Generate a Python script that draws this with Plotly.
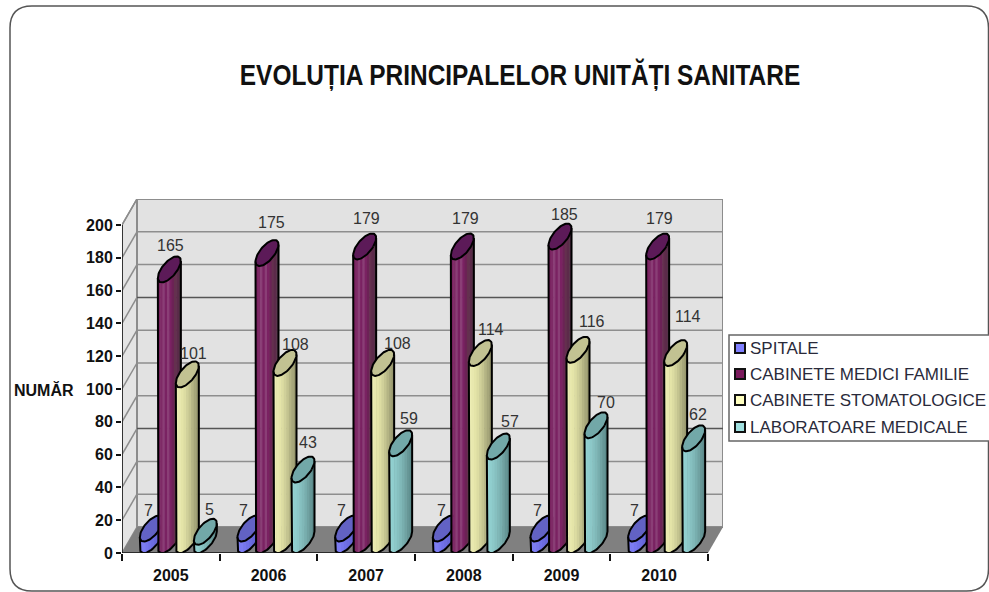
import math
import plotly.graph_objects as go

# ---- data ----
years = ["2005", "2006", "2007", "2008", "2009", "2010"]
spitale = [7, 7, 7, 7, 7, 7]
medici_familie = [165, 175, 179, 179, 185, 179]
stomatologice = [101, 108, 108, 114, 116, 114]
laboratoare = [5, 43, 59, 57, 70, 62]
series_names = ["SPITALE", "CABINETE MEDICI FAMILIE", "CABINETE STOMATOLOGICE", "LABORATOARE MEDICALE"]
y_ticks = list(range(0, 201, 20))
series_values = [spitale, medici_familie, stomatologice, laboratoare]

# ---- styling ----
W, H = 989, 592
X0, X6 = 122, 708      # front plane of the x axis, pixels
Y0, Y200 = 553, 225    # front plane of the y axis, pixels
DX, DY = 15, 26        # depth offset of the 3D box, pixels
RX, SX, SY = 8.7, 7.5, 13
SPACING = 18
PX_X = (X6 - X0) / 6
PX_Y = (Y0 - Y200) / 200
xmax = (X6 + DX - X0) / PX_X
ymax = (Y0 - (Y200 - DY)) / PX_Y

bands = [
    ["#7c7cf2", "#7c7cf2", "#7676ee", "#7070e8", "#6c6ce0", "#6666d8", "#6060d0", "#5a5ac4"],
    ["#7a2260", "#7e2a66", "#8a3e76", "#7a2262", "#8a3e76", "#7a2262", "#6c2256", "#64304e", "#5c2a4a", "#553048"],
    ["#ecedb4", "#e8e8ae", "#e4e4a8", "#dcdca2", "#d0d09a", "#c4c490", "#b4b484", "#a6a67a", "#98986e"],
    ["#94d2d2", "#90cece", "#8cc8c8", "#86c0c0", "#80b8b8", "#78aeae", "#70a2a2", "#669696", "#5c8a8a"],
]
top_colors = ["#6262c4", "#5c1a58", "#c2c292", "#72a8a8"]
swatch_colors = ["#8080ff", "#7a1a5c", "#ffffc0", "#a0e0e0"]

label_dx = [[-3, -6, -5, -3, -5, -5], [1, 4, 2, 3, 4, 2], [6, 10, 15, 11, 14, 12], [4, 5, 8, 12, 10, 4]]
label_dy = [[18, 18, 18, 18, 18, 18], [24, 31, 28, 28, 22, 28], [21, 18, 19, 24, 28, 37], [22, 27, 25, 25, 23, 24]]


def to_x(px):
    return (px - X0) / PX_X


def to_y(py):
    return (Y0 - py) / PX_Y


def project(cat, val, depth=0.0):
    return cat + depth * DX / PX_X, val + depth * DY / PX_Y


fig = go.Figure()


def poly(xs, ys, fill, line=None, width=0):
    fig.add_trace(go.Scatter(x=xs, y=ys, mode="lines", fill="toself", fillcolor=fill,
                             line=dict(color=line or fill, width=width), hoverinfo="skip", showlegend=False))


def line(xs, ys, color, width):
    fig.add_trace(go.Scatter(x=xs, y=ys, mode="lines", line=dict(color=color, width=width),
                             hoverinfo="skip", showlegend=False))


def quad(points, fill, line_color=None, width=0):
    pts = [project(*p) for p in points] + [project(*points[0])]
    poly([p[0] for p in pts], [p[1] for p in pts], fill, line_color, width)


# walls and floor
quad([(0, 0, 0), (0, 0, 1), (0, 200, 1), (0, 200, 0)], "#e4e4e4", "#8c8c8c", 1.5)
quad([(0, 0, 1), (6, 0, 1), (6, 200, 1), (0, 200, 1)], "#e2e2e2", "#8c8c8c", 2)
quad([(0, 0, 0), (0, 0, 1), (6, 0, 1), (6, 0, 0)], "#808080")
for v in y_ticks:
    a, b, d = project(0, v, 0), project(0, v, 1), project(6, v, 1)
    dark = v in (140, 60)
    if v > 0:
        line([a[0], b[0]], [a[1], b[1]], "#8c8c8c", 1.5)
        line([b[0], d[0]], [b[1], d[1]], "#555555" if dark else "#8e8e8e", 1.5)

# cylinders
t0 = math.atan2(SX, RX)
N = 40
lower_t = [t0 + math.pi + math.pi * i / N for i in range(N + 1)]
full_t = [2 * math.pi * i / 72 for i in range(73)]


def ex(t):
    return RX * math.cos(t) + SX * math.sin(t)


def ey(t):
    return SY * math.sin(t)


def lower_y_at(xp):
    for t1, t2 in zip(lower_t[:-1], lower_t[1:]):
        a, b = ex(t1), ex(t2)
        if a <= xp <= b:
            f = (xp - a) / (b - a) if b > a else 0
            return ey(t1) + f * (ey(t2) - ey(t1))
    return ey(lower_t[-1])


half = ex(t0)
for s, values in enumerate(series_values):
    n = len(bands[s])
    step = 2 * half / n
    band_x = [[] for _ in range(n)]
    band_y = [[] for _ in range(n)]
    out_x, out_y, top_x, top_y = [], [], [], []
    for k, v in enumerate(values):
        cx = X0 + PX_X * (k + 0.5) + DX / 2 + (s - 1.5) * SPACING
        base = Y0 - SY
        top = base - v * PX_Y
        for b in range(n):
            xs_off = [-half + step * b + step * i / 6 for i in range(7)]
            xs = [cx + o for o in xs_off]
            low = [base - lower_y_at(o) for o in xs_off]
            up = [top - lower_y_at(o) for o in reversed(xs_off)]
            px = xs + list(reversed(xs)) + [xs[0]]
            py = low + up + [low[0]]
            band_x[b] += [to_x(p + (0.6 if j in (6, 7) else 0)) for j, p in enumerate(px)] + [None]
            band_y[b] += [to_y(p) for p in py] + [None]
        # side and bottom outline
        ox = [cx + ex(t0 + math.pi)] + [cx + ex(t) for t in lower_t] + [cx + ex(t0)]
        oy = [top - ey(t0 + math.pi)] + [base - ey(t) for t in lower_t] + [top - ey(t0)]
        out_x += [to_x(p) for p in ox] + [None]
        out_y += [to_y(p) for p in oy] + [None]
        top_x += [to_x(cx + ex(t)) for t in full_t] + [None]
        top_y += [to_y(top - ey(t)) for t in full_t] + [None]
        fig.add_annotation(x=to_x(cx), y=to_y(top), text=str(v), showarrow=False, xanchor="center", yanchor="middle",
                           xshift=label_dx[s][k], yshift=label_dy[s][k],
                           font=dict(family="Liberation Sans", size=16, color="#333333"))
    for b in range(n):
        poly(band_x[b], band_y[b], bands[s][b])
    line(out_x, out_y, "#000000", 2)
    poly(top_x, top_y, top_colors[s], "#000000", 2)

# front axis lines
line([0, 6], [0, 0], "#111111", 1.5)
line([0, 0], [0, 200], "#111111", 1.5)

layout_shapes = []
# rounded frame (paper coordinates)
fx0, fy0, fx1, fy1, r = 10 / W, 1 - 6 / H, 988.5 / W, 1 - 591 / H, 22
rx, ry = r / W, r / H
layout_shapes.append(dict(type="path", xref="paper", yref="paper", layer="below",
                          path=f"M {fx0+rx} {fy0} L {fx1-rx} {fy0} Q {fx1} {fy0} {fx1} {fy0-ry} L {fx1} {fy1+ry} "
                               f"Q {fx1} {fy1} {fx1-rx} {fy1} L {fx0+rx} {fy1} Q {fx0} {fy1} {fx0} {fy1+ry} "
                               f"L {fx0} {fy0-ry} Q {fx0} {fy0} {fx0+rx} {fy0} Z",
                          line=dict(color="#555555", width=1.5), fillcolor="white"))
# legend box
layout_shapes.append(dict(type="rect", xref="paper", yref="paper", x0=729 / W, x1=1.01, y0=1 - 441 / H, y1=1 - 335 / H,
                          line=dict(color="#666666", width=1.5), fillcolor="white"))
legend_y = [348, 374, 400, 427]
for name, col, ly in zip(series_names, swatch_colors, legend_y):
    layout_shapes.append(dict(type="rect", xref="paper", yref="paper", x0=735 / W, x1=745 / W,
                              y0=1 - (ly + 5) / H, y1=1 - (ly - 5) / H, fillcolor=col,
                              line=dict(color="#111111", width=2)))
    fig.add_annotation(xref="paper", yref="paper", x=748 / W, y=1 - ly / H, text=name, showarrow=False,
                       xanchor="left", yanchor="middle",
                       font=dict(family="Liberation Sans", size=17, color="#2a2a3a"))

fig.add_annotation(xref="paper", yref="paper", x=12 / W, y=1 - 390 / H, text="<b>NUMĂR</b>", showarrow=False,
                   xanchor="left", yanchor="middle", font=dict(family="Liberation Sans", size=16, color="#111111"))

fig.update_layout(
    width=W, height=601, autosize=False, margin=dict(l=0, r=0, t=0, b=0), paper_bgcolor="white", plot_bgcolor="rgba(0,0,0,0)",
    showlegend=False, shapes=layout_shapes,
    title=dict(text="EVOLUȚIA PRINCIPALELOR UNITĂȚI SANITARE", x=520 / W, xanchor="center", y=1 - 73 / H, yanchor="middle",
               font=dict(family="Liberation Sans", size=30, color="#111111", weight="bold")),
    xaxis=dict(domain=[X0 / W, (X6 + DX) / W], range=[0, xmax], showgrid=False, zeroline=False, showline=False,
               tickmode="array", tickvals=[i + 0.5 for i in range(6)], ticktext=[f"<b>{y}</b>" for y in years],
               ticks="outside", ticklen=8, tickcolor="rgba(0,0,0,0)",
               tickfont=dict(family="Liberation Sans", size=16, color="#111111"),
               minor=dict(tickmode="array", tickvals=list(range(7)), ticks="outside", ticklen=7, tickcolor="#111111", tickwidth=1.5, showgrid=False)),
    yaxis=dict(domain=[1 - Y0 / H, 1 - (Y200 - DY) / H], range=[0, ymax], showgrid=False, zeroline=False, showline=False,
               tickmode="array", tickvals=y_ticks, ticktext=[f"<b>{v}</b>" for v in y_ticks],
               ticks="outside", ticklen=5, tickcolor="#111111", tickwidth=1.5,
               tickfont=dict(family="Liberation Sans", size=16, color="#111111")),
)

post = """
document.documentElement.style.margin='0';
document.body.style.margin='0';
document.body.style.overflow='hidden';
var gd=document.getElementById('{plot_id}');
function squeeze(){
  var t=gd.querySelector('.gtitle');
  if(t){var cx=520;t.setAttribute('transform','translate('+cx+',0) scale(0.815,1) translate('+(-cx)+',0)');}
}
squeeze();
"""
fig.write_html("out.html", post_script=post, config={"displayModeBar": False})
